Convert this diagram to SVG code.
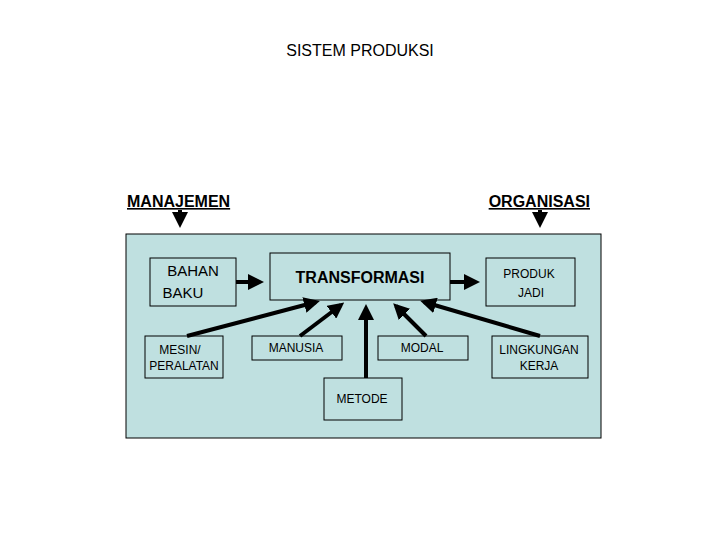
<svg xmlns="http://www.w3.org/2000/svg" width="720" height="540" viewBox="0 0 720 540">
<style>
text{font-family:"Liberation Sans",Arial,sans-serif;fill:#000}
.b{fill:#bfe0e0;stroke:#000;stroke-width:1}
.c{stroke:#000;stroke-width:4;fill:none;marker-end:url(#a)}
.s{font-size:12px}
.m{font-size:15px}
</style>
<defs><marker id="a" markerWidth="4" markerHeight="4" refX="3" refY="2" orient="auto" markerUnits="strokeWidth"><path d="M0,0L4,2L0,4z" fill="#000"/></marker></defs>
<rect width="720" height="540" fill="#fff"/>
<text x="360" y="56" font-size="16" text-anchor="middle">SISTEM PRODUKSI</text>
<text x="127" y="207" font-size="16" font-weight="bold" text-decoration="underline">MANAJEMEN</text>
<text x="590" y="207" font-size="16" font-weight="bold" text-decoration="underline" text-anchor="end">ORGANISASI</text>
<rect id="sistem" class="b" x="126" y="234" width="475" height="204"/>
<g id="bahan"><rect class="b" x="150" y="258" width="86" height="48"/><text class="m" x="193" y="276" text-anchor="middle">BAHAN</text><text class="m" x="183" y="298" text-anchor="middle">BAKU</text></g>
<g id="trans"><rect class="b" x="270" y="253" width="180" height="47"/><text x="360" y="283" font-size="16" font-weight="bold" text-anchor="middle">TRANSFORMASI</text></g>
<g id="produk"><rect class="b" x="486" y="258" width="89" height="48"/><text class="s" x="529" y="278" text-anchor="middle">PRODUK</text><text class="s" x="531" y="297" text-anchor="middle">JADI</text></g>
<g id="mesin"><rect class="b" x="145" y="336" width="78" height="42"/><text class="s" x="180" y="354" text-anchor="middle">MESIN/</text><text class="s" x="184" y="370" text-anchor="middle">PERALATAN</text></g>
<g id="manusia"><rect class="b" x="252" y="336" width="90" height="24"/><text class="s" x="296" y="352" text-anchor="middle">MANUSIA</text></g>
<g id="modal"><rect class="b" x="378" y="336" width="90" height="24"/><text class="s" x="422" y="352" text-anchor="middle">MODAL</text></g>
<g id="lingkungan"><rect class="b" x="492" y="336" width="96" height="42"/><text class="s" x="539" y="354" text-anchor="middle">LINGKUNGAN</text><text class="s" x="539" y="370" text-anchor="middle">KERJA</text></g>
<g id="metode"><rect class="b" x="324" y="378" width="78" height="42"/><text class="s" x="362" y="403" text-anchor="middle">METODE</text></g>
<g id="connectors">
<path class="c" d="M180,210V224"/>
<path class="c" d="M540,210V224"/>
<path class="c" d="M236,282H260"/>
<path class="c" d="M450,282H476"/>
<path class="c" d="M187,336L316,302"/>
<path class="c" d="M300,336L341,305"/>
<path class="c" d="M366,378V308"/>
<path class="c" d="M426,336L396,306"/>
<path class="c" d="M540,336L424,302"/>
</g>
</svg>
